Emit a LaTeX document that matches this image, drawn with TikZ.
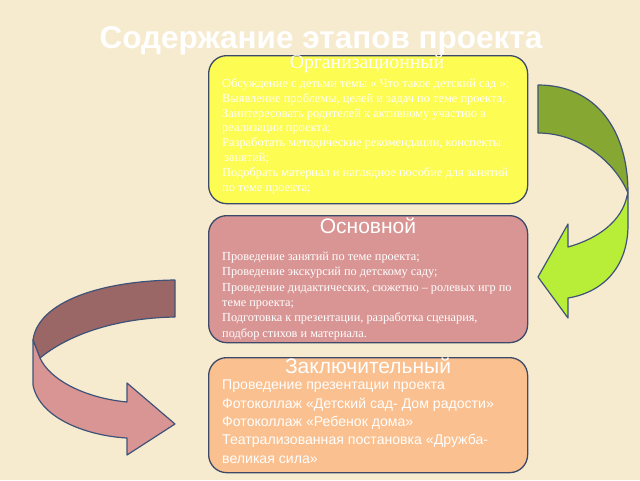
\documentclass[tikz,border=0pt]{standalone}
\usepackage{fontspec}
\setmainfont{Liberation Serif}
\setsansfont{Liberation Sans}
\definecolor{bg}{HTML}{F7EBCF}
\definecolor{boxline}{HTML}{3A4A68}
\definecolor{arrline}{HTML}{3F5378}
\definecolor{yel}{HTML}{FCFC52}
\definecolor{pinkbox}{HTML}{D99594}
\definecolor{orangebox}{HTML}{FAC08F}
\definecolor{gdark}{HTML}{86A832}
\definecolor{glight}{HTML}{B8EE38}
\definecolor{pdark}{HTML}{9A6666}
\definecolor{plight}{HTML}{D99594}
\begin{document}
\begin{tikzpicture}[x=1pt,y=-1pt,
  box/.style={draw=boxline, line width=1.3pt, rounded corners=18pt, inner sep=0pt, anchor=north west, minimum width=319pt},
  ttl/.style={text=white, inner sep=0pt, anchor=base},
  body/.style={text=white, inner sep=0pt, anchor=north west, align=left},
  arr/.style={draw=arrline, line width=1.2pt, line join=round}]
\fill[bg] (0,0) rectangle (640,480);
\useasboundingbox (0,0) rectangle (640,480);
% title
\node[ttl, font=\sffamily\bfseries\fontsize{31.5}{34}\selectfont] (title) at (321,48) {Содержание этапов проекта};
% boxes
\node[box, fill=yel, minimum height=148pt] (b1) at (208,55) {};
\node[box, fill=pinkbox, minimum height=127pt] (b2) at (208,215) {};
\node[box, fill=orangebox, minimum height=115pt] (b3) at (208,357) {};
% box titles
\node[ttl, font=\rmfamily\fontsize{19.7}{22}\selectfont] (t1) at (367,68.5) {Организационный};
\node[ttl, font=\sffamily\fontsize{21}{24}\selectfont] (t2) at (368,233) {Основной};
\node[ttl, font=\sffamily\fontsize{21}{24}\selectfont] (t3) at (368,373) {Заключительный};
% box bodies
\node[body, font=\fontsize{12.4}{14.8}\selectfont] (x1) at (222,78.5) {Обсуждение с детьми темы « Что такое детский сад »;\\
Выявление проблемы, целей и задач по теме проекта;\\
Заинтересовать родителей к активному участию в\\
реализации проекта;\\
Разработать методические рекомендации, конспекты\\
\hspace*{2pt}занятий;\\
Подобрать материал и наглядное пособие для занятий\\
по теме проекта;};
\node[body, font=\fontsize{12.3}{15.4}\selectfont] (x2) at (222,251.6) {Проведение занятий по теме проекта;\\
Проведение экскурсий по детскому саду;\\
Проведение дидактических, сюжетно – ролевых игр по\\
теме проекта;\\
Подготовка к презентации, разработка сценария,\\
подбор стихов и материала.};
\node[body, font=\sffamily\fontsize{14.1}{18.3}\selectfont] (x3) at (222,380) {Проведение презентации проекта\\
Фотоколлаж «Детский сад- Дом радости»\\
Фотоколлаж «Ребенок дома»\\
Театрализованная постановка «Дружба-\\
великая сила»};
% green curved arrow (right)
\path[arr, fill=gdark] (538,85) .. controls (596,85) and (628,130) .. (628,193)
  .. controls (614,160) and (578,133) .. (538,133) -- cycle;
\path[arr, fill=glight] (628,193) -- (628,225) .. controls (628,265) and (605,292) .. (568,298)
  -- (568,318) -- (538,277) -- (568,224) -- (568,247)
  .. controls (600,238) and (622,220) .. (627,196) -- cycle;
% pink curved arrow (left)
\path[arr, fill=pdark] (175,280) .. controls (100,281) and (38,302) .. (33,340)
  -- (40,358) .. controls (68,335) and (115,318) .. (175,317) -- cycle;
\path[arr, fill=plight] (33,340) -- (33,385) .. controls (40,420) and (90,436) .. (127,438)
  -- (127,455) -- (175,424) -- (127,383) -- (127,402)
  .. controls (85,398) and (50,380) .. (40,358) -- cycle;
\end{tikzpicture}
\end{document}
